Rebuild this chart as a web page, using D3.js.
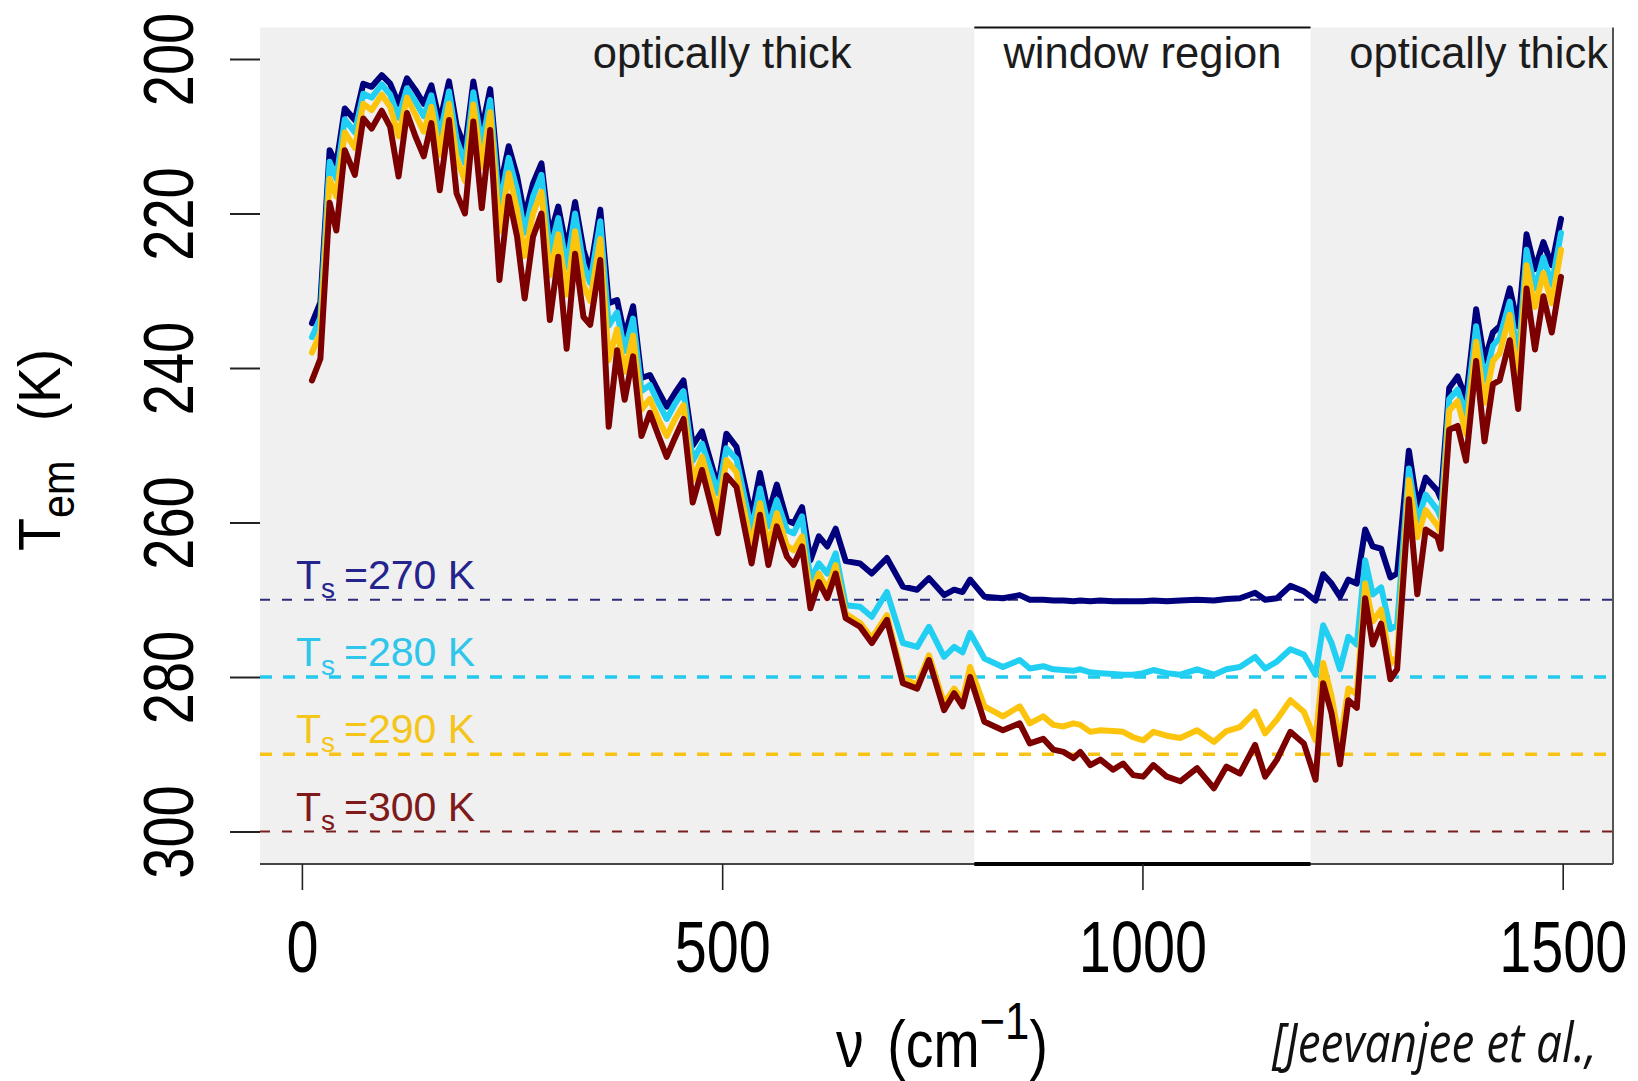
<!DOCTYPE html>
<html><head><meta charset="utf-8">
<script src="https://cdn.jsdelivr.net/npm/d3@7"></script>
<style>
html,body{margin:0;padding:0;background:#fff;}
svg{display:block;}
</style></head><body>
<svg id="chart" width="1638" height="1081"></svg>
<script>
// ---------- data ----------
const wavenumber = [12,22,33,41,51,63,73,83,95,105,115,125,135,145,154,164,175,184,194,204,214,224,235,246,256,265,275,285,295,305,315,325,335,343,355,365,375,384,394,404,414,424,434,444,454,465,476,495,505,517,535,545,555,565,577,585,595,605,615,625,635,647,664,678,696,715,732,746,764,776,786,795,812,834,854,866,882,894,906,918,926,938,950,965,977,989,1001,1013,1029,1045,1065,1085,1100,1116,1134,1146,1160,1176,1192,1206,1215,1225,1235,1245,1255,1265,1274,1284,1295,1303,1317,1327,1337,1351,1355,1365,1375,1385,1397,1407,1417,1425,1437,1447,1457,1467,1477,1487,1498];

const tem270 = [234.2,231.5,211.8,213.6,206.4,207.9,203.2,203.6,202.1,203.2,205.8,202.5,204.0,205.8,203.4,208.2,202.9,208.6,211.6,202.9,209.2,203.9,217.0,211.3,215.2,220.4,216.1,213.5,223.0,219.1,224.7,218.5,224.7,227.5,219.5,231.6,231.2,235.9,232.0,241.3,240.9,243.0,245.0,243.2,241.6,250.0,248.2,255.4,248.5,250.2,259.2,253.6,258.8,255.1,259.7,260.1,258.0,264.9,261.8,263.1,260.8,265.0,265.3,266.6,264.6,268.3,268.7,267.2,269.4,268.7,269.0,267.4,269.6,269.8,269.4,270.0,270.0,270.1,270.1,270.2,270.1,270.2,270.1,270.2,270.2,270.2,270.2,270.1,270.2,270.1,270.0,270.1,269.9,269.8,269.1,270.0,269.8,268.2,268.9,270.1,266.7,267.9,269.6,267.4,267.9,260.9,263.1,263.4,267.1,266.6,250.7,257.9,254.2,255.9,256.9,242.6,241.1,244.0,232.4,239.1,235.4,234.6,229.7,234.6,222.7,227.2,223.7,226.7,220.7];

const tem280 = [236.0,233.5,213.3,215.5,207.8,209.5,204.5,205.0,203.3,204.6,207.6,203.8,205.5,207.4,204.7,210.0,204.2,210.4,213.5,204.3,211.2,205.3,219.2,212.8,217.0,222.5,217.8,215.0,225.0,220.6,227.0,220.0,226.6,229.0,221.0,234.5,232.8,237.8,233.6,243.0,242.2,244.5,246.6,244.6,243.0,252.0,249.8,256.2,250.4,251.8,261.0,255.6,260.5,257.1,261.0,261.4,259.2,267.4,265.3,266.6,264.0,270.7,270.9,272.2,269.0,275.6,276.1,273.5,277.4,276.1,276.8,274.3,277.6,278.7,277.8,278.9,278.6,279.0,279.1,279.2,279.0,279.4,279.5,279.6,279.7,279.7,279.5,279.1,279.5,279.7,279.0,279.7,279.0,278.7,277.4,278.9,278.0,276.4,277.1,279.7,273.3,275.6,279.0,274.8,275.8,264.9,269.3,268.4,273.8,273.3,253.0,259.9,256.4,258.4,259.4,244.0,242.8,246.0,234.6,241.6,237.1,236.1,231.4,239.1,224.7,229.7,225.7,229.2,222.5];

const tem290 = [238.0,235.5,215.5,217.8,209.5,211.5,205.8,206.6,204.6,206.2,210.0,205.0,207.2,209.4,206.2,212.4,205.8,212.8,215.8,205.9,214.0,206.9,222.3,214.8,219.5,225.5,220.0,217.2,228.0,222.7,230.5,222.3,229.3,231.3,223.3,239.0,235.0,240.5,235.8,245.4,244.0,246.6,248.8,246.6,244.8,254.5,251.5,258.8,251.9,253.5,263.1,257.5,263.1,258.8,263.0,263.6,261.8,269.2,266.6,268.7,265.5,271.8,273.0,275.0,272.0,280.2,281.0,277.2,283.4,281.5,283.0,278.7,283.8,285.1,283.8,286.0,285.1,286.2,286.4,286.0,286.2,287.1,286.9,287.0,287.1,287.8,288.2,287.1,287.6,287.9,286.9,288.4,287.0,286.5,284.5,287.3,285.5,283.0,284.5,288.2,278.2,282.5,288.5,281.5,282.2,267.9,272.8,271.3,278.3,277.3,254.5,261.9,258.4,260.4,261.4,245.5,244.3,248.5,236.6,244.5,239.1,238.1,233.1,242.1,226.7,232.1,227.7,231.6,224.7];

const tem300 = [241.6,238.8,218.6,222.2,211.8,215.0,207.7,209.0,206.7,208.8,215.2,207.0,210.0,212.6,208.3,217.0,207.9,217.4,220.0,208.1,219.3,209.2,228.6,217.8,223.0,231.0,223.0,220.0,233.8,225.6,237.5,225.2,233.4,234.4,226.0,247.6,237.7,244.1,238.5,248.8,245.8,248.7,251.5,249.0,246.6,257.4,253.2,261.4,253.9,255.4,265.3,259.0,265.5,260.5,264.4,265.5,263.1,271.1,267.7,269.8,266.6,272.4,273.5,275.6,272.6,280.8,281.5,277.8,284.3,282.1,283.8,280.0,285.8,286.9,286.0,288.6,288.0,289.4,289.7,290.5,289.7,291.4,290.7,292.0,291.2,292.7,292.9,291.4,292.9,293.5,291.8,294.4,291.6,292.5,288.8,292.9,290.7,287.1,288.6,293.3,280.8,284.7,291.3,283.0,284.0,269.8,275.8,273.1,280.3,279.0,257.0,269.3,260.9,261.9,263.4,248.0,247.5,252.0,239.1,249.5,242.1,241.6,236.4,245.3,229.7,237.6,230.7,235.4,228.2];

const surfaceTemps = [270, 280, 290, 300];
const seriesColors = ["#00007c", "#21cff2", "#fcc40c", "#7c0000"];
const refColors    = ["#2b2b78", "#22c9ec", "#f7c415", "#7a1f1f"];
const labelColors  = ["#24248c", "#2ec6ea", "#f4c51a", "#7e1a1a"];
const xTicks = [0, 500, 1000, 1500];
const yTicks = [200, 220, 240, 260, 280, 300];
const regionLabels = ["optically thick", "window region", "optically thick"];
const regionLabelAt = [500, 1000, 1400];
const windowRange = [800, 1200];
const citation = "[Jeevanjee et al.,";

// ---------- drawing ----------
const FONT = '"Liberation Sans", Arial, Helvetica, sans-serif';
const svg = d3.select("#chart");
const plot = {left: 260, right: 1613, top: 27.5, bottom: 864};
const x = d3.scaleLinear().domain([0, 1500]).range([301.9, 1562.7]);
const y = d3.scaleLinear().domain([200, 300]).range([59, 831.5]);

// background regions
svg.append("rect").attr("x", plot.left).attr("y", plot.top)
  .attr("width", plot.right - plot.left).attr("height", plot.bottom - plot.top)
  .attr("fill", "#f0f0f0");
svg.append("rect").attr("x", x(windowRange[0])).attr("y", plot.top)
  .attr("width", x(windowRange[1]) - x(windowRange[0])).attr("height", plot.bottom - plot.top)
  .attr("fill", "#ffffff");

// frame pieces
svg.append("line").attr("x1", plot.right).attr("x2", plot.right).attr("y1", plot.top).attr("y2", plot.bottom)
  .attr("stroke", "#555").attr("stroke-width", 2);
svg.append("line").attr("x1", plot.left).attr("x2", plot.right).attr("y1", plot.bottom).attr("y2", plot.bottom)
  .attr("stroke", "#444").attr("stroke-width", 2);
svg.append("line").attr("x1", x(windowRange[0])).attr("x2", x(windowRange[1])).attr("y1", plot.top).attr("y2", plot.top)
  .attr("stroke", "#111").attr("stroke-width", 2);
svg.append("line").attr("x1", x(windowRange[0])).attr("x2", x(windowRange[1])).attr("y1", plot.bottom).attr("y2", plot.bottom)
  .attr("stroke", "#000").attr("stroke-width", 4);

// region labels
svg.selectAll("text.region").data(regionLabels).enter().append("text")
  .attr("class", "region")
  .attr("x", (d, i) => x(regionLabelAt[i])).attr("y", 68)
  .attr("text-anchor", "middle").attr("font-family", FONT).attr("font-size", 43.5)
  .attr("fill", "#1c1c1c").text(d => d);

// dashed reference lines
surfaceTemps.forEach((t, i) => {
  const thick = (i === 1 || i === 2);
  svg.append("line").attr("x1", plot.left).attr("x2", plot.right)
    .attr("y1", y(t)).attr("y2", y(t))
    .attr("stroke", refColors[i]).attr("stroke-width", thick ? 3.4 : 2)
    .attr("stroke-dasharray", thick ? "12,11" : "10,12");
  const lab = svg.append("text").attr("x", x(-7)).attr("y", y(t) - 11)
    .attr("font-family", FONT).attr("font-size", 41).attr("fill", labelColors[i]);
  lab.append("tspan").text("T");
  lab.append("tspan").attr("font-size", 28).attr("dy", 9).text("s");
  lab.append("tspan").attr("dy", -9).attr("dx", 9).text("=" + t + " K");
});

// emission temperature curves
const series = [tem270, tem280, tem290, tem300];
const line = d3.line().x((d, i) => x(wavenumber[i])).y(d => y(d));
series.forEach((s, i) => {
  svg.append("path").datum(s).attr("d", line)
    .attr("fill", "none").attr("stroke", seriesColors[i]).attr("stroke-width", 6)
    .attr("stroke-linejoin", "round").attr("stroke-linecap", "round");
});

// x axis
const gx = svg.append("g").attr("transform", `translate(0,${plot.bottom})`)
  .call(d3.axisBottom(x).tickValues(xTicks).tickSize(26).tickFormat(d3.format("d")));
gx.attr("font-family", FONT);
gx.select(".domain").remove();
gx.selectAll(".tick line").attr("stroke", "#222").attr("stroke-width", 1.6);
gx.selectAll(".tick text").attr("font-size", 72).attr("y", 108).attr("dy", 0)
  .attr("fill", "#000").attr("transform", "scale(0.8,1)");

// y axis
const gy = svg.append("g").attr("transform", `translate(${plot.left},0)`)
  .call(d3.axisLeft(y).tickValues(yTicks).tickSize(30));
gy.attr("font-family", FONT);
gy.select(".domain").remove();
gy.selectAll(".tick line").attr("stroke", "#222").attr("stroke-width", 2);
gy.selectAll(".tick text").attr("x", 0).attr("y", 0).attr("dy", 0)
  .attr("text-anchor", "middle").attr("font-size", 70).attr("fill", "#000")
  .attr("transform", "translate(-67,0) rotate(-90) scale(0.8,1)");

// y title
const yt = svg.append("text").attr("transform", "translate(60,551) rotate(-90) scale(0.9,1)")
  .attr("font-family", FONT).attr("font-size", 60).attr("fill", "#000");
yt.append("tspan").text("T");
yt.append("tspan").attr("font-size", 46).attr("dy", 14).text("em");
yt.append("tspan").attr("dy", -14).attr("dx", 44).text("(K)");

// x title
const xt = svg.append("text").attr("transform", "translate(836,1067) scale(0.84,1)")
  .attr("font-family", FONT).attr("font-size", 66).attr("fill", "#000");
xt.append("tspan").text("\u03bd");
xt.append("tspan").attr("dx", 28).text("(cm");
xt.append("tspan").attr("font-size", 52).attr("dy", -28).text("\u22121");
xt.append("tspan").attr("dy", 28).text(")");

// citation
svg.append("text").attr("transform", "translate(1272,1062) scale(0.85,1)")
  .attr("font-family", '"Open Sans", "DejaVu Sans", sans-serif').attr("font-style", "italic")
  .attr("font-size", 54).attr("fill", "#111").text(citation);
</script>
</body></html>
